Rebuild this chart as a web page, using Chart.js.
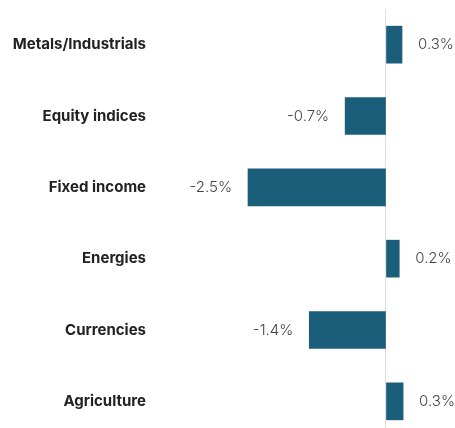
<!DOCTYPE html>
<html>
<head>
<meta charset="utf-8">
<script src="https://cdn.jsdelivr.net/npm/chart.js@4"></script>
<style>
  html, body { margin: 0; padding: 0; background: #fff; }
  body { width: 455px; height: 428px; overflow: hidden; }
  #caja { width: 455px; height: 437px; position: relative; }
</style>
</head>
<body>
<div id="caja"><canvas id="grafico"></canvas></div>
<script>
// Categorías y valores (en %)
const categorias = [
  "Metals/Industrials",
  "Equity indices",
  "Fixed income",
  "Energies",
  "Currencies",
  "Agriculture"
];
const valores = [0.29, -0.74, -2.5, 0.24, -1.39, 0.31];

const colorBarra = "#1b5e7a";

// Etiquetas de valor junto a cada barra
const etiquetasValor = {
  id: "etiquetasValor",
  afterDatasetsDraw(chart) {
    const ctx = chart.ctx;
    const meta = chart.getDatasetMeta(0);
    ctx.save();
    ctx.font = "300 15px Inter, 'Noto Sans', sans-serif";
    ctx.fillStyle = "#444";
    ctx.textBaseline = "middle";
    meta.data.forEach((barra, i) => {
      const v = valores[i];
      const texto = v.toFixed(1) + "%";
      if (v >= 0) {
        ctx.textAlign = "left";
        ctx.fillText(texto, barra.x + 16, barra.y);
      } else {
        ctx.textAlign = "right";
        ctx.fillText(texto, barra.x - 16, barra.y);
      }
    });
    ctx.restore();
  }
};

document.addEventListener("DOMContentLoaded", () => {
  const ctx = document.getElementById("grafico").getContext("2d");
  new Chart(ctx, {
    type: "bar",
    data: {
      labels: categorias,
      datasets: [{
        data: valores,
        backgroundColor: colorBarra,
        borderWidth: 0,
        barThickness: 37
      }]
    },
    options: {
      indexAxis: "y",
      responsive: true,
      maintainAspectRatio: false,
      animation: false,
      layout: { padding: { top: 9, right: 0, bottom: 0, left: 0 } },
      plugins: {
        legend: { display: false },
        tooltip: { enabled: false }
      },
      scales: {
        x: {
          min: -4.094,
          max: 1.25,
          afterFit(scale) { scale.height = 0; },
          ticks: { display: false },
          border: { display: false },
          grid: {
            drawTicks: false,
            lineWidth: 1,
            color: (c) => (c.tick && c.tick.value === 0 ? "#dddddd" : "rgba(0,0,0,0)")
          }
        },
        y: {
          afterFit(scale) {
            scale.width = 160;
            scale.paddingTop = 0;
            scale.paddingBottom = 0;
          },
          border: { display: false },
          grid: { display: false, drawTicks: false },
          ticks: {
            padding: 14,
            color: "#222",
            font: { family: "Inter, 'Noto Sans', sans-serif", size: 15, weight: "bold" }
          }
        }
      }
    },
    plugins: [etiquetasValor]
  });
});
</script>
</body>
</html>
